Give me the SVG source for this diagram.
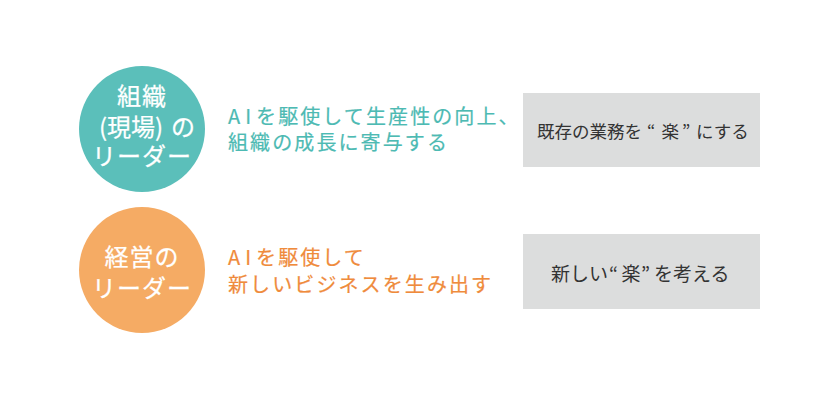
<svg xmlns="http://www.w3.org/2000/svg" width="840" height="400" viewBox="0 0 840 400">
<style>
text{font-family:"Noto Sans CJK JP","Noto Sans",sans-serif;font-weight:400}
.ct{fill:#ffffff;stroke:#ffffff;stroke-width:0.25px;font-size:24px;text-anchor:middle;letter-spacing:1px}
.cs{text-anchor:start;letter-spacing:0}
.tl{fill:#4dbab3;stroke:#4dbab3;stroke-width:0.2px;font-size:20px;letter-spacing:2.1px}
.or{fill:#ef8b3c;stroke:#ef8b3c;stroke-width:0.2px;font-size:20px;letter-spacing:2.1px}
.ai{letter-spacing:5px}
.bx{fill:#dcdddd}
.bt{fill:#333333}
.b1{font-size:17.5px}
.b2{font-size:19px}
</style>
<rect width="840" height="400" fill="#ffffff"/>
<g id="node-org-leader">
<circle cx="142" cy="129" r="63" fill="#5bbfba"/>
<text class="ct" x="142" y="105">組織</text>
<text class="ct cs" x="99" y="136">(現場)<tspan x="171">の</tspan></text>
<text class="ct" x="142" y="165">リーダー</text>
</g>
<g id="node-org-desc">
<text class="tl" x="228" y="124"><tspan class="ai">AI</tspan>を駆使して生産性の向上、</text>
<text class="tl" x="228" y="150">組織の成長に寄与する</text>
</g>
<g id="node-org-box">
<rect class="bx" x="523" y="93" width="237" height="74"/>
<text class="bt b1" y="138"><tspan x="537">既存の業務を</tspan><tspan x="647">“</tspan><tspan x="661.5">楽</tspan><tspan x="682">”</tspan><tspan x="696">にする</tspan></text>
</g>
<g id="node-mgmt-leader">
<circle cx="142" cy="270" r="63" fill="#f5ab64"/>
<text class="ct" x="142" y="266">経営の</text>
<text class="ct" x="142" y="297">リーダー</text>
</g>
<g id="node-mgmt-desc">
<text class="or" x="228" y="265"><tspan class="ai">AI</tspan>を駆使して</text>
<text class="or" x="228" y="292">新しいビジネスを生み出す</text>
</g>
<g id="node-mgmt-box">
<rect class="bx" x="523" y="234" width="237" height="75"/>
<text class="bt b2" y="280.5"><tspan x="551">新しい</tspan><tspan x="609">“</tspan><tspan x="621.5">楽</tspan><tspan x="641">”</tspan><tspan x="654">を考える</tspan></text>
</g>
<g id="connectors"></g>
</svg>
